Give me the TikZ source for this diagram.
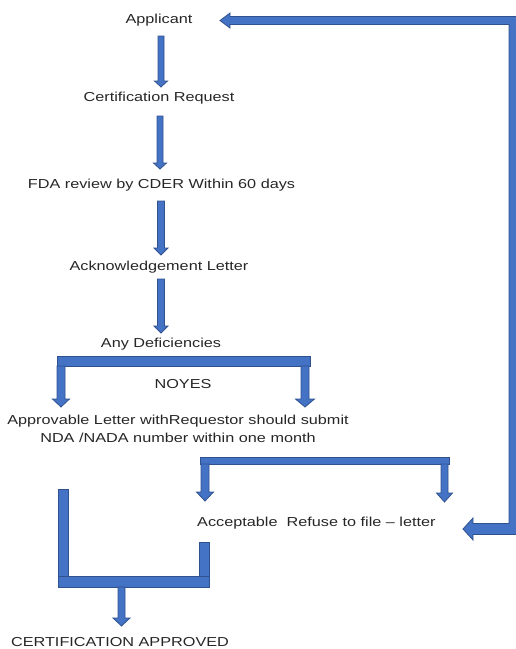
\documentclass[tikz,border=0pt]{standalone}
\usepackage{fontspec}
\setmainfont{Liberation Sans}[FakeStretch=1.25]
\definecolor{arrfill}{HTML}{4472C4}
\definecolor{arredge}{HTML}{2F528F}
\definecolor{txt}{HTML}{262626}
\tikzset{
  blk/.style={fill=arrfill, draw=arredge, line width=0.8pt, line join=miter},
  lbl/.style={font=\fontsize{13}{18}\selectfont, text=txt, inner sep=0pt, anchor=base}
}
% down block arrow: x, top, tip, shaft half-width, head half-width, head length
\newcommand\blkdown[6]{%
  \filldraw[blk] (#1-#4,#2) -- (#1+#4,#2) -- (#1+#4,#3-#6) -- (#1+#5,#3-#6) -- (#1,#3) -- (#1-#5,#3-#6) -- (#1-#4,#3-#6) -- cycle;}
\begin{document}
\begin{tikzpicture}[x=1pt,y=-1pt]
\useasboundingbox (0,0) rectangle (516,649);
% texts
\node[lbl] (app) at (159,23.6) {Applicant};
\node[lbl] (req) at (159,101.6) {Certification Request};
\node[lbl] (fda) at (161.5,188.6) {FDA review by CDER Within 60 days};
\node[lbl] (ack) at (159,270.6) {Acknowledgement Letter};
\node[lbl] (def) at (161,347.6) {Any Deficiencies};
\node[lbl] (ny) at (183,388.6) {NOYES};
\node[lbl, align=center] (appr) at (178,442.6) {Approvable Letter withRequestor should submit\\NDA /NADA number within one month};
\node[lbl, anchor=base west] (acc) at (197,526.6) {Acceptable\ \ Refuse to file -- letter};
\node[lbl] (cert) at (120,646.6) {CERTIFICATION APPROVED};
% vertical chain
\blkdown{161}{36}{87}{3}{6.5}{6}
\blkdown{160}{116}{169}{3}{6.5}{6}
\blkdown{161}{201}{255}{3.5}{7}{7}
\blkdown{161}{279}{333}{3.5}{7}{7}
% first branch
\filldraw[blk] (57,356) rectangle (310,366);
\blkdown{61}{366}{407}{4}{8.5}{8}
\blkdown{305}{366}{407}{4}{9.5}{8}
% second branch
\filldraw[blk] (200,457) rectangle (449,464);
\blkdown{205}{464}{501}{4}{8.5}{9}
\blkdown{444.5}{464}{502}{3.5}{8}{9}
% return loop
\filldraw[blk] (517,16.5) -- (230,16.5) -- (230,13) -- (220,20.5) -- (230,28) -- (230,24.5) -- (509,24.5) -- (509,523.5) -- (473,523.5) -- (473,518) -- (463,529) -- (473,540) -- (473,534.5) -- (517,534.5) -- cycle;
% bottom join
\filldraw[blk] (58,489) rectangle (68,577);
\filldraw[blk] (199,542) rectangle (209,577);
\filldraw[blk] (58,576) rectangle (209,587);
\blkdown{121.5}{587}{626}{3.5}{8.5}{8}
\end{tikzpicture}
\end{document}
